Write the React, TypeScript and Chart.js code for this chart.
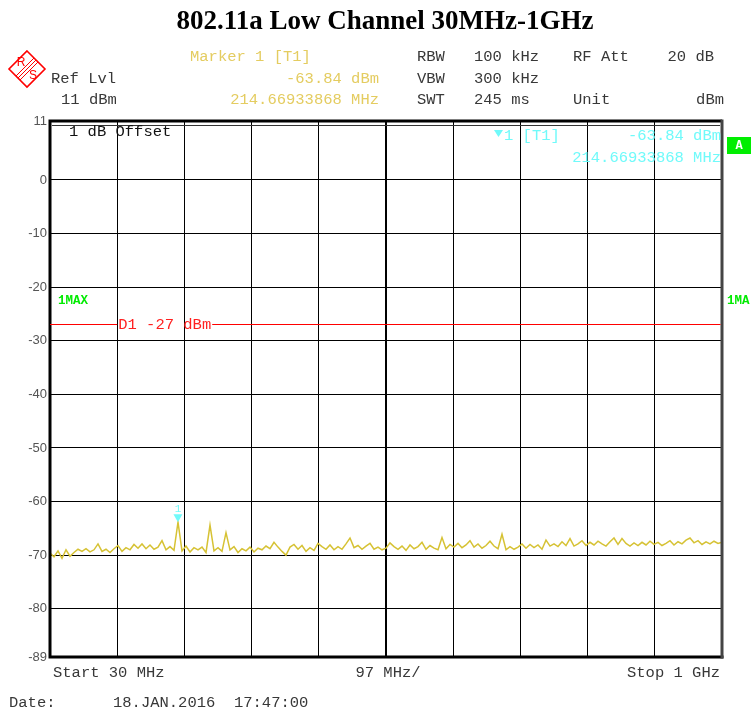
import React, { useEffect, useRef } from "react";
import { Chart, registerables } from "chart.js";

Chart.register(...registerables);

const TITLE = "802.11a Low Channel 30MHz-1GHz";
const START_MHZ = 30;
const STOP_MHZ = 1000;
const Y_MIN = -89;
const Y_MAX = 11;
const Y_TICKS = [11, 0, -10, -20, -30, -40, -50, -60, -70, -80, -89];
const X_GRID = [30, 127, 224, 321, 418, 515, 612, 709, 806, 903, 1000];
const CENTER_MHZ = 515;

const TRACE_DBM = [
  -69.6, -70.3, -69.2, -70.6, -69.0, -70.2, -69.5, -68.9, -69.3, -68.8,
  -69.4, -69.0, -67.9, -69.3, -68.9, -69.5, -68.8, -68.2, -69.3, -68.6,
  -69.0, -68.0, -68.7, -67.9, -68.8, -68.1, -68.9, -68.5, -67.3, -69.0,
  -68.4, -69.1, -63.84, -69.2, -68.3, -69.4, -68.6, -69.0, -68.5, -69.5,
  -64.4, -69.2, -68.6, -69.3, -65.8, -69.0, -68.4, -69.5, -68.8, -69.2,
  -68.5, -69.4, -68.7, -69.0, -68.3, -68.8, -67.6, -68.5, -69.3, -70.0,
  -68.5, -68.0, -68.9, -68.2, -69.3, -68.6, -69.1, -67.8, -68.4, -68.9,
  -68.1, -69.0, -68.4, -68.9, -67.9, -66.8, -68.6, -68.2, -68.9, -68.3,
  -67.8, -68.9, -68.5, -69.0, -68.7, -67.7, -68.4, -68.9, -68.3, -69.1,
  -68.1, -68.8, -68.4, -67.6, -68.9, -68.2, -68.7, -69.0, -66.7, -68.8,
  -68.0, -68.5, -67.8, -68.6, -68.1, -67.3, -68.5, -67.9, -68.7, -68.2,
  -67.4, -68.3, -68.8, -66.1, -69.0, -68.4, -68.9, -68.5, -67.9, -68.7,
  -68.0, -68.6, -68.1, -68.9, -67.2, -68.3, -67.9, -68.4, -67.5, -68.2,
  -66.9, -68.3, -67.9, -67.3, -68.2, -67.6, -68.1, -67.4, -67.9, -68.3,
  -67.5, -66.8, -68.0, -66.9, -67.8, -68.3, -67.7, -68.2, -67.6, -68.1,
  -67.4, -68.0, -67.6, -68.2, -67.8, -67.3, -68.1, -67.5, -67.9, -67.2,
  -66.8, -67.7, -67.3, -68.0, -67.5, -67.9, -67.4, -67.8, -67.6,
];

const MARKER_MHZ = 214.66933868;
const MARKER_DBM = -63.84;
const DISPLAY_LINE_DBM = -27;

const HEADER_LEFT = ["Ref Lvl", "11 dBm"];
const MARKER_HEAD = ["Marker 1 [T1]", "-63.84 dBm", "214.66933868 MHz"];
const SETTINGS = [
  ["RBW", "100 kHz", "RF Att", "20 dB"],
  ["VBW", "300 kHz", "", ""],
  ["SWT", "245 ms", "Unit", "dBm"],
];
const FOOTER = ["Start 30 MHz", "97 MHz/", "Stop 1 GHz"];
const DATE_TEXT = ["Date:", "18.JAN.2016  17:47:00"];

const MONO = "'Liberation Mono', 'DejaVu Sans Mono', monospace";
const TRACE_COLOR = "rgb(214,194,52)";
const YELLOW_TEXT = "rgb(228,204,96)";
const CYAN = "rgb(112,250,250)";
const GREEN = "rgb(0,235,0)";
const TEXT_DARK = "#383838";

const overlayPlugin = {
  id: "overlay",
  afterDraw(chart: any) {
    const ctx: CanvasRenderingContext2D = chart.ctx;
    const { left, right, top, bottom } = chart.chartArea;
    const xs = chart.scales.x;
    const ys = chart.scales.y;
    ctx.save();

    // frame
    ctx.strokeStyle = "#000";
    ctx.lineWidth = 3;
    ctx.beginPath();
    ctx.moveTo(left, top);
    ctx.lineTo(right, top);
    ctx.moveTo(left, top - 1.5);
    ctx.lineTo(left, bottom + 1.5);
    ctx.moveTo(left, bottom);
    ctx.lineTo(right + 1.5, bottom);
    ctx.stroke();
    ctx.strokeStyle = "#444";
    ctx.beginPath();
    ctx.moveTo(right, top - 1.5);
    ctx.lineTo(right, bottom + 1.5);
    ctx.stroke();
    ctx.lineWidth = 1;
    ctx.strokeStyle = "#333";
    ctx.beginPath();
    ctx.moveTo(left + 2, top + 4.5);
    ctx.lineTo(right - 2, top + 4.5);
    ctx.stroke();

    // display line D1
    const dy = Math.round(ys.getPixelForValue(DISPLAY_LINE_DBM)) - 0.5;
    ctx.font = `15.5px ${MONO}`;
    ctx.textBaseline = "middle";
    const d1 = `D1 ${DISPLAY_LINE_DBM} dBm`;
    const d1x = xs.getPixelForValue(X_GRID[1]) + 1;
    const d1w = ctx.measureText(d1).width;
    ctx.strokeStyle = "#ff0000";
    ctx.beginPath();
    ctx.moveTo(left, dy);
    ctx.lineTo(d1x - 1, dy);
    ctx.moveTo(d1x + d1w + 1, dy);
    ctx.lineTo(right - 1.5, dy);
    ctx.stroke();
    ctx.fillStyle = "#ff2020";
    ctx.textAlign = "left";
    ctx.fillText(d1, d1x, dy);

    // marker on trace
    const mx = xs.getPixelForValue(MARKER_MHZ);
    const my = ys.getPixelForValue(MARKER_DBM);
    ctx.fillStyle = CYAN;
    ctx.beginPath();
    ctx.moveTo(mx - 4.5, my - 8);
    ctx.lineTo(mx + 4.5, my - 8);
    ctx.lineTo(mx, my);
    ctx.closePath();
    ctx.fill();
    ctx.font = `11px ${MONO}`;
    ctx.textAlign = "center";
    ctx.fillText("1", mx, my - 13);

    // marker readout in plot
    ctx.font = `15.5px ${MONO}`;
    ctx.beginPath();
    ctx.moveTo(494, 130);
    ctx.lineTo(503, 130);
    ctx.lineTo(498.5, 137);
    ctx.closePath();
    ctx.fill();
    ctx.textAlign = "left";
    ctx.fillText("1 [T1]", 504, 136);
    ctx.textAlign = "right";
    ctx.fillText(MARKER_HEAD[1], right - 1, 136);
    ctx.fillText(MARKER_HEAD[2], right - 1, 158);

    // offset text
    ctx.fillStyle = "#111";
    ctx.textAlign = "left";
    ctx.fillText("1 dB Offset", 69, 132);

    // green A
    ctx.fillStyle = "#00ee00";
    ctx.fillRect(727, 137, 24, 17);
    ctx.fillStyle = "#fff";
    ctx.font = `bold 12px ${MONO}`;
    ctx.textAlign = "center";
    ctx.fillText("A", 739, 146);

    // 1MAX labels
    ctx.fillStyle = GREEN;
    ctx.font = `bold 12.5px ${MONO}`;
    ctx.textAlign = "left";
    ctx.fillText("1MAX", 58, 301);
    ctx.fillText("1MA", 727, 301);

    // title
    ctx.fillStyle = "#000";
    ctx.font = "bold 27px 'Liberation Serif', 'DejaVu Serif', serif";
    ctx.textAlign = "center";
    ctx.fillText(TITLE, 385, 22);

    // header
    ctx.font = `15.5px ${MONO}`;
    ctx.fillStyle = TEXT_DARK;
    ctx.textAlign = "left";
    ctx.fillText(HEADER_LEFT[0], 51, 79);
    ctx.fillText(HEADER_LEFT[1], 61, 100);
    ctx.fillStyle = YELLOW_TEXT;
    ctx.fillText(MARKER_HEAD[0], 190, 57);
    ctx.textAlign = "right";
    ctx.fillText(MARKER_HEAD[1], 379, 79);
    ctx.fillText(MARKER_HEAD[2], 379, 100);
    ctx.fillStyle = TEXT_DARK;
    const rowsY = [57, 79, 100];
    SETTINGS.forEach((row, i) => {
      ctx.textAlign = "left";
      ctx.fillText(row[0], 417, rowsY[i]);
      ctx.fillText(row[1], 474, rowsY[i]);
      ctx.fillText(row[2], 573, rowsY[i]);
      ctx.textAlign = "right";
      ctx.fillText(row[3], i === 2 ? 724 : 714, rowsY[i]);
    });

    // footer
    ctx.textAlign = "left";
    ctx.fillText(FOOTER[0], 53, 673);
    ctx.textAlign = "center";
    ctx.fillText(FOOTER[1], 388, 673);
    ctx.textAlign = "right";
    ctx.fillText(FOOTER[2], 720, 673);
    ctx.textAlign = "left";
    ctx.fillText(DATE_TEXT[0], 9, 703);
    ctx.fillText(DATE_TEXT[1], 113, 703);

    // R&S logo
    const cx = 27, cy = 69, h = 18;
    ctx.strokeStyle = "#ff0000";
    ctx.lineWidth = 1.6;
    ctx.beginPath();
    ctx.moveTo(cx, cy - h);
    ctx.lineTo(cx + h, cy);
    ctx.lineTo(cx, cy + h);
    ctx.lineTo(cx - h, cy);
    ctx.closePath();
    ctx.stroke();
    ctx.lineWidth = 1;
    for (let k = -2; k <= 2; k += 2) {
      ctx.beginPath();
      ctx.moveTo(cx + 9 + k, cy - 9 + k);
      ctx.lineTo(cx - 9 + k, cy + 9 + k);
      ctx.stroke();
    }
    ctx.fillStyle = "#ff0000";
    ctx.font = "12px 'Liberation Sans', sans-serif";
    ctx.textAlign = "center";
    ctx.fillText("R", cx - 6, cy - 6);
    ctx.fillText("S", cx + 6, cy + 7);

    ctx.restore();
  },
};

export default function App() {
  const ref = useRef<HTMLCanvasElement | null>(null);

  useEffect(() => {
    document.body.style.margin = "0";
    const canvas = ref.current;
    if (!canvas) return;
    const n = TRACE_DBM.length;
    const points = TRACE_DBM.map((v, i) => ({
      x: START_MHZ + (i * (STOP_MHZ - START_MHZ)) / (n - 1),
      y: v,
    }));
    const chart = new Chart(canvas, {
      type: "line",
      data: {
        datasets: [
          {
            data: points,
            borderColor: TRACE_COLOR,
            borderWidth: 1.5,
            pointRadius: 0,
            tension: 0,
            fill: false,
          },
        ],
      },
      options: {
        animation: false,
        responsive: false,
        devicePixelRatio: 1,
        layout: { padding: { top: 121, right: 29, bottom: 56, left: 0 } },
        plugins: {
          legend: { display: false },
          tooltip: { enabled: false },
          title: { display: false },
        },
        scales: {
          x: {
            type: "linear",
            min: START_MHZ,
            max: STOP_MHZ,
            afterBuildTicks: (s: any) => {
              s.ticks = X_GRID.map((v) => ({ value: v }));
            },
            afterFit: (s: any) => {
              s.height = 0;
            },
            ticks: { display: false },
            grid: {
              color: "#000",
              lineWidth: (c: any) => (c.tick && c.tick.value === CENTER_MHZ ? 2 : 1),
              drawTicks: false,
            },
            border: { display: false },
          },
          y: {
            type: "linear",
            min: Y_MIN,
            max: Y_MAX,
            afterBuildTicks: (s: any) => {
              s.ticks = Y_TICKS.map((v) => ({ value: v }));
            },
            afterFit: (s: any) => {
              s.width = 50;
            },
            ticks: {
              color: "#555",
              font: { family: "'Liberation Sans', Arial, sans-serif", size: 13 },
              padding: 3,
              autoSkip: false,
              callback: (v: any) => String(v),
            },
            grid: { color: "#000", lineWidth: 1, drawTicks: false },
            border: { display: false },
          },
        },
      },
      plugins: [overlayPlugin],
    });
    return () => chart.destroy();
  }, []);

  return (
    <div style={{ width: 751, height: 713, position: "relative", background: "#fff" }}>
      <canvas ref={ref} width={751} height={713} style={{ display: "block" }} />
    </div>
  );
}
